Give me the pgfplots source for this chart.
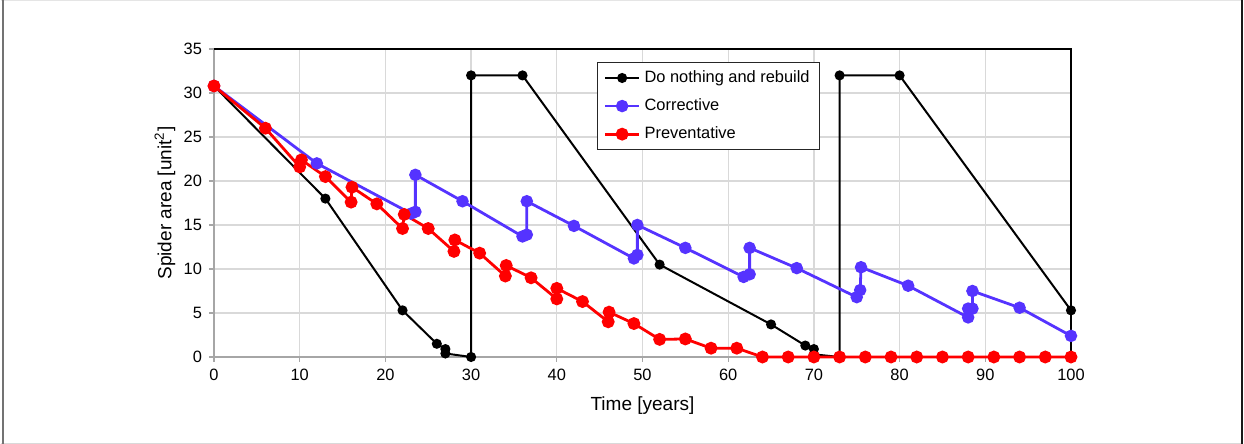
\documentclass[border=0pt]{standalone}
\usepackage{pgfplots}
\pgfplotsset{compat=1.18}
\usepackage{fontspec}
\setmainfont{Liberation Sans}
\definecolor{cblue}{RGB}{85,51,255}
\definecolor{cred}{RGB}{255,0,0}
\definecolor{axgray}{RGB}{166,166,166}
\definecolor{gridgray}{RGB}{217,217,217}
\begin{document}
\begin{tikzpicture}
\useasboundingbox (-107pt,-43.5pt) rectangle (515pt,178.5pt);
\draw[gray!20, line width=0.5pt] (-106.5pt,178.2pt) -- (514.5pt,178.2pt);
\draw[gray!30, line width=0.5pt] (-106.5pt,-43.2pt) -- (514.5pt,-43.2pt);
\draw[black!55, line width=1.2pt] (-105.5pt,-43.5pt) -- (-105.5pt,178.5pt);
\draw[black!90, line width=1.2pt] (514pt,-43.5pt) -- (514pt,178.5pt);
\begin{axis}[
  at={(0,0)}, anchor=south west,
  scale only axis, width=428.5pt, height=154pt,
  xmin=0, xmax=100, ymin=0, ymax=35,
  xtick={0,10,...,100}, ytick={0,5,...,35},
  grid=major, major grid style={gridgray, line width=0.6pt},
  axis line style={axgray, line width=0.8pt},
  tick style={axgray, line width=0.6pt},
  tick align=outside, major tick length=2.5pt,
  xtick pos=bottom, ytick pos=left,
  tick label style={font=\fontsize{8.2}{10}\selectfont},
  /pgf/number format/assume math mode=true,
  clip=false,
  xlabel={Time [years]},
  ylabel={Spider area [unit\textsuperscript{2}]},
  xlabel style={at={([yshift=-24.5pt]rel axis cs:0.5,0)}, anchor=center, font=\fontsize{9.5}{11}\selectfont},
  ylabel style={at={([xshift=-24.5pt]rel axis cs:0,0.5)}, anchor=center, font=\fontsize{9.5}{11}\selectfont},
  legend style={at={(0.447,0.958)}, anchor=north west, draw=black!85, line width=0.6pt,
    font=\fontsize{8.2}{10}\selectfont, row sep=2.6pt, inner xsep=3pt, inner ysep=2pt,
    cells={anchor=west}},
]
\addplot[black, line width=1pt, mark=*, mark size=2pt, mark options={solid, fill=black}] coordinates {
(0,30.8)(13,18)(22,5.3)(26,1.5)(27,0.9)(27,0.4)(30,0)(30,32)(36,32)(52,10.5)(65,3.7)(69,1.3)(70,0.9)(70,0.3)(73,0)(73,32)(80,32)(100,5.3)
};
\addlegendentry{Do nothing and rebuild}
\addplot[cblue, line width=1.4pt, mark=*, mark size=2.4pt, mark options={solid, fill=cblue}] coordinates {
(0,30.8)(12,22)(23,16.3)(23.5,16.5)(23.5,20.7)(29,17.7)(36,13.7)(36.5,13.9)(36.5,17.7)(42,14.9)(49,11.2)(49.4,11.6)(49.4,15.0)(55,12.4)(61.8,9.1)(62.5,9.4)(62.5,12.4)(68,10.1)(75,6.8)(75.4,7.6)(75.5,10.2)(81,8.1)(88,4.5)(88,5.5)(88.5,5.5)(88.5,7.5)(94,5.6)(100,2.4)
};
\addlegendentry{Corrective}
\addplot[cred, line width=1.4pt, mark=*, mark size=2.5pt, mark options={solid, fill=cred}] coordinates {
(0,30.8)(6,26)(10,21.6)(10.2,22.4)(13,20.5)(16,17.6)(16.1,19.3)(19,17.4)(22,14.6)(22.2,16.2)(25,14.6)(28,12)(28.1,13.3)(31,11.8)(34,9.2)(34.1,10.4)(37,9)(40,6.6)(40,7.8)(43,6.3)(46,4.0)(46.1,5.1)(49,3.8)(52,2.0)(55,2.05)(58,1.0)(61,1.0)(64,0)(67,0)(70,0)(73,0)(76,0)(79,0)(82,0)(85,0)(88,0)(91,0)(94,0)(97,0)(100,0)
};
\addlegendentry{Preventative}
\draw[black, line width=0.8pt] (rel axis cs:0,1) -- (rel axis cs:1,1) -- (rel axis cs:1,0);
\end{axis}
\end{tikzpicture}
\end{document}
